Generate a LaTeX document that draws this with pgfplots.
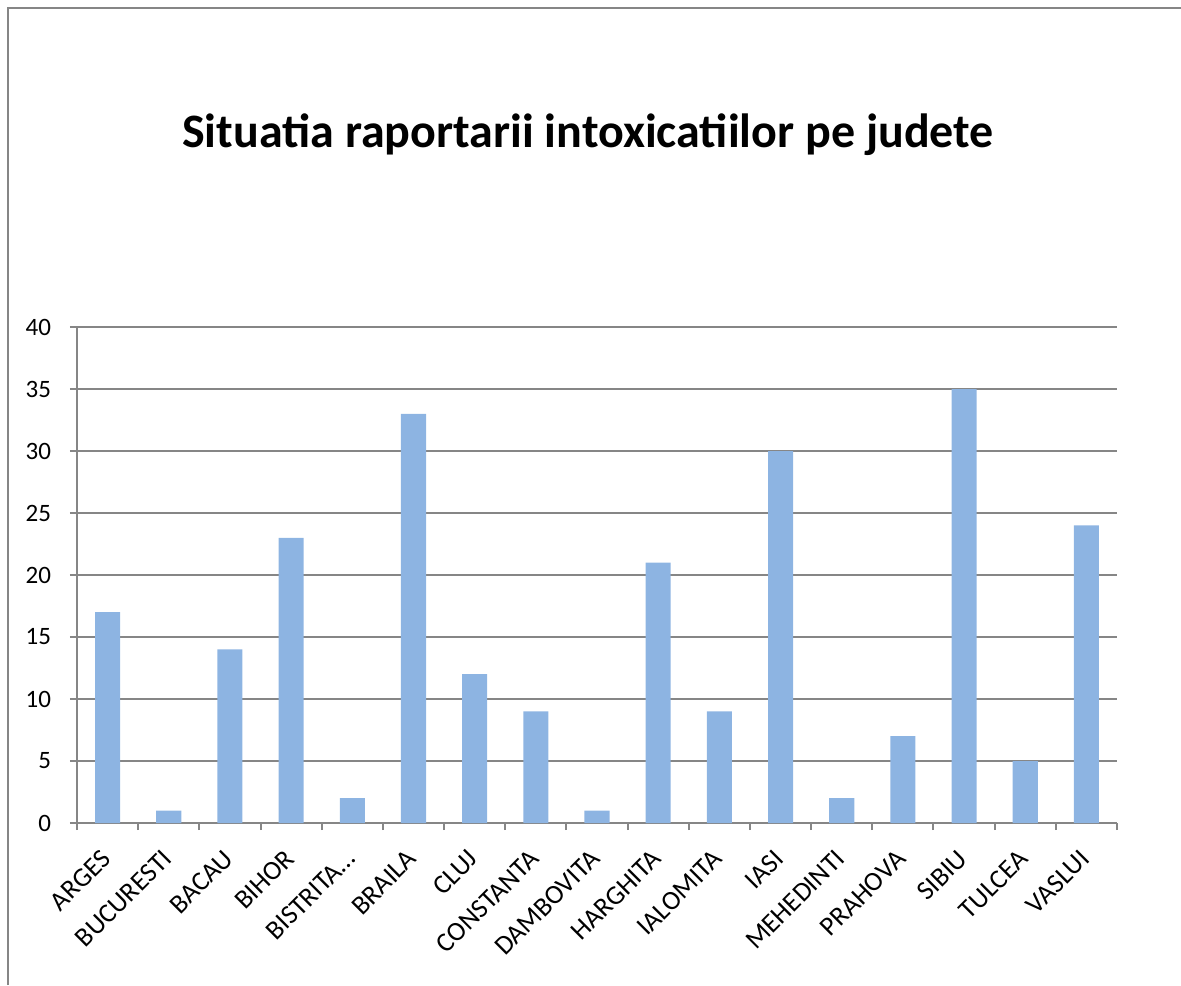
\documentclass[border=0pt]{standalone}
\usepackage{pgfplots}
\pgfplotsset{compat=1.18}
\usepackage{fontspec}
\setmainfont{Carlito}
\definecolor{barblue}{RGB}{141,180,226}
\definecolor{axgray}{RGB}{134,134,134}
\begin{document}
\begin{tikzpicture}
\path[use as bounding box] (0pt,0pt) rectangle (590.5pt,492.5pt);
\draw[axgray,line width=1pt] (4pt,0pt) -- (4pt,488.5pt) -- (590.5pt,488.5pt);
\node[font=\fontsize{24}{29}\selectfont\bfseries] at (294pt,425pt) {Situatia raportarii intoxicatiilor pe judete};
\begin{axis}[
  at={(38.5pt,81pt)}, anchor=south west,
  scale only axis, width=520pt, height=248pt,
  xmin=-0.5, xmax=16.5, ymin=0, ymax=40,
  axis lines*=left,
  axis line style={axgray,line width=1pt},
  ytick={0,5,...,40},
  ymajorgrids, grid style={axgray,line width=1pt},
  tick align=outside, major tick length=3.5pt,
  tick style={axgray,line width=1pt},
  xtick={-0.5,0.5,...,16.5}, xticklabels={},
  extra x ticks={0,1,...,16},
  extra x tick labels={ARGES,BUCURESTI,BACAU,BIHOR,BISTRITA\ldots,BRAILA,CLUJ,CONSTANTA,DAMBOVITA,HARGHITA,IALOMITA,IASI,MEHEDINTI,PRAHOVA,SIBIU,TULCEA,VASLUI},
  extra x tick style={major tick length=0pt, grid=none},
  xticklabel shift=15pt,
  xticklabel style={rotate=45, anchor=east, font=\fontsize{13.5}{16}\selectfont, inner sep=1pt},
  yticklabel style={font=\fontsize{12.5}{15}\selectfont, xshift=-6pt},
  /pgf/number format/assume math mode=true,
  ybar, bar width=0.41,
]
\addplot[fill=barblue, draw=none] coordinates {
(0,17) (1,1) (2,14) (3,23) (4,2) (5,33) (6,12) (7,9) (8,1) (9,21) (10,9) (11,30) (12,2) (13,7) (14,35) (15,5) (16,24)};
\end{axis}
\end{tikzpicture}
\end{document}
